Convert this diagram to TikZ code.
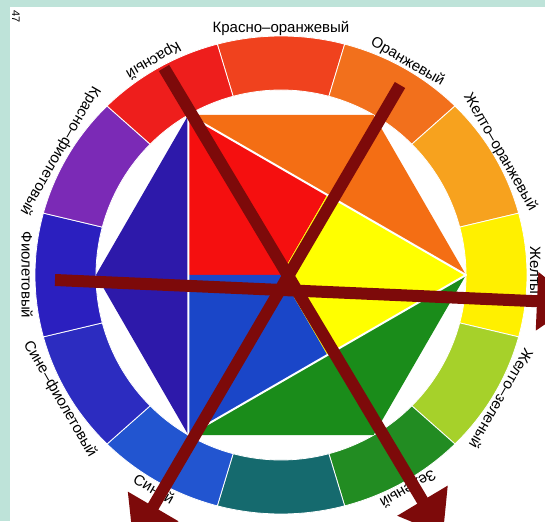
\documentclass[tikz,border=0pt]{standalone}
\usepackage{fontspec}
\setmainfont{Liberation Sans}
\usepackage{tikz}
\usetikzlibrary{arrows.meta}
\definecolor{sea}{HTML}{BEE3D9}
\definecolor{ringR}{HTML}{EE1E1C}
\definecolor{ringRO}{HTML}{F0421E}
\definecolor{ringO}{HTML}{F2701C}
\definecolor{ringYO}{HTML}{F7A21E}
\definecolor{ringY}{HTML}{FFF000}
\definecolor{ringYG}{HTML}{A6D12A}
\definecolor{ringG}{HTML}{228C22}
\definecolor{ringBG}{HTML}{156A6E}
\definecolor{ringB}{HTML}{2255D0}
\definecolor{ringBV}{HTML}{2C2CC0}
\definecolor{ringV}{HTML}{2B1FBF}
\definecolor{ringRV}{HTML}{7B2AB6}
\definecolor{hexR}{HTML}{F50F0F}
\definecolor{hexO}{HTML}{F46E14}
\definecolor{hexY}{HTML}{FFFF00}
\definecolor{hexG}{HTML}{1A8C1A}
\definecolor{hexB}{HTML}{1A46C8}
\definecolor{hexV}{HTML}{2D19AA}
\definecolor{arrowred}{HTML}{7D0A0A}
\newcommand{\lblsize}{\fontsize{15}{18}\selectfont}
\tikzset{
  seg/.style={draw=white, line width=0.8pt},
  tri/.style={draw=white, line width=2pt, line join=round},
  lblout/.style={font=\lblsize, inner sep=0pt, anchor=base},
  lblin/.style={font=\lblsize, inner sep=0pt, anchor=north},
  arr/.style={draw=arrowred, line width=12pt, -{Triangle[length=40pt, width=56pt]}}
}

\begin{document}
\begin{tikzpicture}[x=1pt, y=1pt]
% page, margins
\fill[sea] (-281,-246) rectangle (264,275);
\fill[white] (-271,-246) rectangle (264,268);
\useasboundingbox (-281,-246) rectangle (264,275);
\clip (-281,-246) rectangle (264,275);
\node[rotate=-90, font=\fontsize{11}{13}\selectfont, inner sep=0pt] (page) at (-265,258) {47};

% ring of twelve hues
\foreach \a/\c in {90/ringRO, 60/ringO, 30/ringYO, 0/ringY, -30/ringYG, -60/ringG,
                   -90/ringBG, -120/ringB, -150/ringBV, 180/ringV, 150/ringRV, 120/ringR}
  \filldraw[seg, fill=\c] ({\a-15}:185) arc[start angle=\a-15, end angle=\a+15, radius=185]
    -- ({\a+15}:246 and 239) arc[start angle=\a+15, end angle=\a-15, x radius=246, y radius=239] -- cycle;

% hexagon inside
\coordinate (o) at (0,0);
\foreach \a in {0,60,...,300} \coordinate (v\a) at (\a:185);
\foreach \a in {60,180,300} \coordinate (m\a) at (\a:92.5);
\fill[hexO] (v0) -- (v60) -- (v120) -- cycle;
\fill[hexV] (v120) -- (v180) -- (v240) -- cycle;
\fill[hexG] (v240) -- (v300) -- (v0) -- cycle;
\fill[hexR] (v120) -- (m60) -- (o) -- (m180) -- cycle;
\fill[hexY] (v0) -- (m300) -- (o) -- (m60) -- cycle;
\fill[hexB] (v240) -- (m180) -- (o) -- (m300) -- cycle;
\draw[tri] (v0) -- (v120) -- (v240) -- cycle;

% names of the hues
\foreach \a/\t in {90/Красно–оранжевый, 60/Оранжевый, 30/Желто–оранжевый, 0/Желтый,
                   -30/Желто–зеленый, -60/Зеленый}
  \node[lblout, rotate=\a-90] (lbl\a) at (\a:249 and 242) {\t};
\foreach \a/\t in {120/Красный, 150/Красно–фиолетовый, 180/Фиолетовый,
                   210/Сине–фиолетовый, 240/Синий}
  \node[lblin, rotate=\a+90] (lbl\a) at (\a:248 and 241) {\t};

% arrows
\coordinate (w) at (-226,-5);   \coordinate (e) at (296,-28);
\coordinate (nw) at (-117,207); \coordinate (se) at (162,-260);
\coordinate (ne) at (119,190);  \coordinate (sw) at (-148,-266);
\draw[arr] (w) -- (e);
\draw[arr] (nw) -- (se);
\draw[arr] (ne) -- (sw);
\end{tikzpicture}
\end{document}
